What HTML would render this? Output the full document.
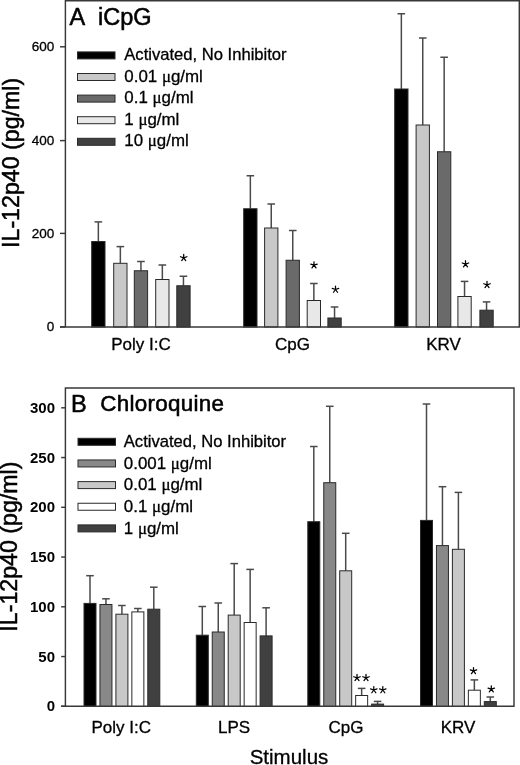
<!DOCTYPE html>
<html><head><meta charset="utf-8"><style>
html,body{margin:0;padding:0;background:#fff;}
svg{display:block;filter:grayscale(1);}
text{font-family:"Liberation Sans",sans-serif;fill:#000;stroke:#000;stroke-width:0.3px;}
.eb{stroke:#4a4a4a;stroke-width:1.5;}
.bar{stroke:#2a2a2a;stroke-width:1;}
.ax{stroke:#383838;stroke-width:1.45;fill:none;}
.leg{font-size:16.6px;}
.mu{font-family:"Liberation Serif",serif;}
.tkA{font-size:13.5px;}
.tkB{font-size:15px;font-weight:bold;stroke:none;}
.xl{font-size:17px;}
.title{font-size:23.5px;stroke-width:0.55px;}
.yl{font-size:23.2px;stroke-width:0.5px;}
.st{stroke:#000;stroke-width:1.25;stroke-linecap:round;fill:none;}
</style></head><body>
<svg width="520" height="765" viewBox="0 0 520 765">
<rect x="0" y="0" width="520" height="765" fill="#fff"/>
<!-- Panel A -->
<line x1="98.35" y1="241.50" x2="98.35" y2="221.90" class="eb"/>
<line x1="94.55" y1="221.90" x2="102.15" y2="221.90" class="eb"/>
<rect x="91.70" y="241.50" width="13.30" height="85.50" fill="#000000" class="bar"/>
<line x1="120.35" y1="263.30" x2="120.35" y2="246.60" class="eb"/>
<line x1="116.55" y1="246.60" x2="124.15" y2="246.60" class="eb"/>
<rect x="113.70" y="263.30" width="13.30" height="63.70" fill="#c8c8c8" class="bar"/>
<line x1="140.95" y1="270.75" x2="140.95" y2="261.50" class="eb"/>
<line x1="137.15" y1="261.50" x2="144.75" y2="261.50" class="eb"/>
<rect x="134.30" y="270.75" width="13.30" height="56.25" fill="#6a6a6a" class="bar"/>
<line x1="162.35" y1="279.50" x2="162.35" y2="265.00" class="eb"/>
<line x1="158.55" y1="265.00" x2="166.15" y2="265.00" class="eb"/>
<rect x="155.70" y="279.50" width="13.30" height="47.50" fill="#e8e8e8" class="bar"/>
<line x1="183.45" y1="285.75" x2="183.45" y2="276.25" class="eb"/>
<line x1="179.65" y1="276.25" x2="187.25" y2="276.25" class="eb"/>
<rect x="176.80" y="285.75" width="13.30" height="41.25" fill="#404040" class="bar"/>
<line x1="250.35" y1="208.75" x2="250.35" y2="175.75" class="eb"/>
<line x1="246.55" y1="175.75" x2="254.15" y2="175.75" class="eb"/>
<rect x="243.70" y="208.75" width="13.30" height="118.25" fill="#000000" class="bar"/>
<line x1="271.25" y1="228.00" x2="271.25" y2="204.00" class="eb"/>
<line x1="267.45" y1="204.00" x2="275.05" y2="204.00" class="eb"/>
<rect x="264.60" y="228.00" width="13.30" height="99.00" fill="#c8c8c8" class="bar"/>
<line x1="292.75" y1="260.25" x2="292.75" y2="230.50" class="eb"/>
<line x1="288.95" y1="230.50" x2="296.55" y2="230.50" class="eb"/>
<rect x="286.10" y="260.25" width="13.30" height="66.75" fill="#6a6a6a" class="bar"/>
<line x1="313.85" y1="300.50" x2="313.85" y2="283.50" class="eb"/>
<line x1="310.05" y1="283.50" x2="317.65" y2="283.50" class="eb"/>
<rect x="307.20" y="300.50" width="13.30" height="26.50" fill="#e8e8e8" class="bar"/>
<line x1="334.55" y1="318.00" x2="334.55" y2="307.00" class="eb"/>
<line x1="330.75" y1="307.00" x2="338.35" y2="307.00" class="eb"/>
<rect x="327.90" y="318.00" width="13.30" height="9.00" fill="#404040" class="bar"/>
<line x1="401.35" y1="89.00" x2="401.35" y2="13.75" class="eb"/>
<line x1="397.55" y1="13.75" x2="405.15" y2="13.75" class="eb"/>
<rect x="394.70" y="89.00" width="13.30" height="238.00" fill="#000000" class="bar"/>
<line x1="422.75" y1="125.00" x2="422.75" y2="38.00" class="eb"/>
<line x1="418.95" y1="38.00" x2="426.55" y2="38.00" class="eb"/>
<rect x="416.10" y="125.00" width="13.30" height="202.00" fill="#c8c8c8" class="bar"/>
<line x1="444.15" y1="151.75" x2="444.15" y2="57.25" class="eb"/>
<line x1="440.35" y1="57.25" x2="447.95" y2="57.25" class="eb"/>
<rect x="437.50" y="151.75" width="13.30" height="175.25" fill="#6a6a6a" class="bar"/>
<line x1="464.55" y1="296.50" x2="464.55" y2="281.40" class="eb"/>
<line x1="460.75" y1="281.40" x2="468.35" y2="281.40" class="eb"/>
<rect x="457.90" y="296.50" width="13.30" height="30.50" fill="#e8e8e8" class="bar"/>
<line x1="486.55" y1="310.20" x2="486.55" y2="301.90" class="eb"/>
<line x1="482.75" y1="301.90" x2="490.35" y2="301.90" class="eb"/>
<rect x="479.90" y="310.20" width="13.30" height="16.80" fill="#404040" class="bar"/>
<path d="M65.4 326.9V0.7H519.3V326.9H60" class="ax"/>
<line x1="60" y1="326.90" x2="65.4" y2="326.90" class="ax"/>
<text x="54.2" y="331.20" class="tkA" text-anchor="end">0</text>
<line x1="60" y1="233.40" x2="65.4" y2="233.40" class="ax"/>
<text x="54.2" y="237.70" class="tkA" text-anchor="end">200</text>
<line x1="60" y1="140.60" x2="65.4" y2="140.60" class="ax"/>
<text x="54.2" y="144.90" class="tkA" text-anchor="end">400</text>
<line x1="60" y1="46.80" x2="65.4" y2="46.80" class="ax"/>
<text x="54.2" y="51.10" class="tkA" text-anchor="end">600</text>
<text x="69.5" y="25.0" class="title">A</text><text x="98" y="25.0" class="title">iCpG</text>
<rect x="77.50" y="51.90" width="37.5" height="7" fill="#000000" class="bar"/>
<text x="124.3" y="60.00" class="leg">Activated, No Inhibitor</text>
<rect x="77.50" y="73.50" width="37.5" height="7" fill="#c8c8c8" class="bar"/>
<text x="124.3" y="81.60" class="leg" style="font-size:16.9px">0.01 <tspan class="mu">μ</tspan>g/ml</text>
<rect x="77.50" y="95.10" width="37.5" height="7" fill="#6a6a6a" class="bar"/>
<text x="124.3" y="103.20" class="leg" style="font-size:16.9px">0.1 <tspan class="mu">μ</tspan>g/ml</text>
<rect x="77.50" y="116.70" width="37.5" height="7" fill="#e8e8e8" class="bar"/>
<text x="124.3" y="124.80" class="leg" style="font-size:16.9px">1 <tspan class="mu">μ</tspan>g/ml</text>
<rect x="77.50" y="138.30" width="37.5" height="7" fill="#404040" class="bar"/>
<text x="124.3" y="146.40" class="leg" style="font-size:16.9px">10 <tspan class="mu">μ</tspan>g/ml</text>
<path d="M183.70 257.80L183.70 254.40M183.70 257.80L186.93 256.75M183.70 257.80L185.70 260.55M183.70 257.80L181.70 260.55M183.70 257.80L180.47 256.75" class="st"/><path d="M314.00 265.20L314.00 261.80M314.00 265.20L317.23 264.15M314.00 265.20L316.00 267.95M314.00 265.20L312.00 267.95M314.00 265.20L310.77 264.15" class="st"/><path d="M335.50 289.50L335.50 286.10M335.50 289.50L338.73 288.45M335.50 289.50L337.50 292.25M335.50 289.50L333.50 292.25M335.50 289.50L332.27 288.45" class="st"/><path d="M465.50 264.05L465.50 260.65M465.50 264.05L468.73 263.00M465.50 264.05L467.50 266.80M465.50 264.05L463.50 266.80M465.50 264.05L462.27 263.00" class="st"/><path d="M487.00 284.80L487.00 281.40M487.00 284.80L490.23 283.75M487.00 284.80L489.00 287.55M487.00 284.80L485.00 287.55M487.00 284.80L483.77 283.75" class="st"/>
<text x="141" y="349.7" class="xl" text-anchor="middle">Poly I:C</text>
<text x="292.5" y="349.7" class="xl" text-anchor="middle">CpG</text>
<text x="443.5" y="349.7" class="xl" text-anchor="middle">KRV</text>
<text transform="translate(18.6,162.9) rotate(-90)" text-anchor="middle" class="yl">IL-12p40 (pg/ml)</text>
<!-- Panel B -->
<line x1="90.00" y1="603.40" x2="90.00" y2="575.70" class="eb"/>
<line x1="86.20" y1="575.70" x2="93.80" y2="575.70" class="eb"/>
<rect x="84.00" y="603.40" width="12.00" height="103.10" fill="#000000" class="bar"/>
<line x1="105.95" y1="604.50" x2="105.95" y2="598.80" class="eb"/>
<line x1="102.15" y1="598.80" x2="109.75" y2="598.80" class="eb"/>
<rect x="99.95" y="604.50" width="12.00" height="102.00" fill="#888888" class="bar"/>
<line x1="121.90" y1="614.20" x2="121.90" y2="605.50" class="eb"/>
<line x1="118.10" y1="605.50" x2="125.70" y2="605.50" class="eb"/>
<rect x="115.90" y="614.20" width="12.00" height="92.30" fill="#c8c8c8" class="bar"/>
<line x1="137.85" y1="611.90" x2="137.85" y2="608.50" class="eb"/>
<line x1="134.05" y1="608.50" x2="141.65" y2="608.50" class="eb"/>
<rect x="131.85" y="611.90" width="12.00" height="94.60" fill="#ffffff" class="bar"/>
<line x1="153.80" y1="609.20" x2="153.80" y2="587.20" class="eb"/>
<line x1="150.00" y1="587.20" x2="157.60" y2="587.20" class="eb"/>
<rect x="147.80" y="609.20" width="12.00" height="97.30" fill="#404040" class="bar"/>
<line x1="202.30" y1="635.20" x2="202.30" y2="606.50" class="eb"/>
<line x1="198.50" y1="606.50" x2="206.10" y2="606.50" class="eb"/>
<rect x="196.30" y="635.20" width="12.00" height="71.30" fill="#000000" class="bar"/>
<line x1="218.25" y1="632.00" x2="218.25" y2="603.00" class="eb"/>
<line x1="214.45" y1="603.00" x2="222.05" y2="603.00" class="eb"/>
<rect x="212.25" y="632.00" width="12.00" height="74.50" fill="#888888" class="bar"/>
<line x1="234.20" y1="615.10" x2="234.20" y2="563.60" class="eb"/>
<line x1="230.40" y1="563.60" x2="238.00" y2="563.60" class="eb"/>
<rect x="228.20" y="615.10" width="12.00" height="91.40" fill="#c8c8c8" class="bar"/>
<line x1="250.15" y1="622.50" x2="250.15" y2="569.40" class="eb"/>
<line x1="246.35" y1="569.40" x2="253.95" y2="569.40" class="eb"/>
<rect x="244.15" y="622.50" width="12.00" height="84.00" fill="#ffffff" class="bar"/>
<line x1="266.10" y1="635.90" x2="266.10" y2="607.80" class="eb"/>
<line x1="262.30" y1="607.80" x2="269.90" y2="607.80" class="eb"/>
<rect x="260.10" y="635.90" width="12.00" height="70.60" fill="#404040" class="bar"/>
<line x1="313.80" y1="521.70" x2="313.80" y2="446.50" class="eb"/>
<line x1="310.00" y1="446.50" x2="317.60" y2="446.50" class="eb"/>
<rect x="307.80" y="521.70" width="12.00" height="184.80" fill="#000000" class="bar"/>
<line x1="329.75" y1="482.70" x2="329.75" y2="406.30" class="eb"/>
<line x1="325.95" y1="406.30" x2="333.55" y2="406.30" class="eb"/>
<rect x="323.75" y="482.70" width="12.00" height="223.80" fill="#888888" class="bar"/>
<line x1="345.70" y1="570.80" x2="345.70" y2="533.30" class="eb"/>
<line x1="341.90" y1="533.30" x2="349.50" y2="533.30" class="eb"/>
<rect x="339.70" y="570.80" width="12.00" height="135.70" fill="#c8c8c8" class="bar"/>
<line x1="361.65" y1="695.50" x2="361.65" y2="688.40" class="eb"/>
<line x1="357.85" y1="688.40" x2="365.45" y2="688.40" class="eb"/>
<rect x="355.65" y="695.50" width="12.00" height="11.00" fill="#ffffff" class="bar"/>
<line x1="377.60" y1="704.10" x2="377.60" y2="701.40" class="eb"/>
<line x1="373.80" y1="701.40" x2="381.40" y2="701.40" class="eb"/>
<rect x="371.60" y="704.10" width="12.00" height="2.40" fill="#404040" class="bar"/>
<line x1="426.50" y1="520.40" x2="426.50" y2="404.00" class="eb"/>
<line x1="422.70" y1="404.00" x2="430.30" y2="404.00" class="eb"/>
<rect x="420.50" y="520.40" width="12.00" height="186.10" fill="#000000" class="bar"/>
<line x1="442.45" y1="545.60" x2="442.45" y2="486.70" class="eb"/>
<line x1="438.65" y1="486.70" x2="446.25" y2="486.70" class="eb"/>
<rect x="436.45" y="545.60" width="12.00" height="160.90" fill="#888888" class="bar"/>
<line x1="458.40" y1="549.30" x2="458.40" y2="492.40" class="eb"/>
<line x1="454.60" y1="492.40" x2="462.20" y2="492.40" class="eb"/>
<rect x="452.40" y="549.30" width="12.00" height="157.20" fill="#c8c8c8" class="bar"/>
<line x1="474.35" y1="690.20" x2="474.35" y2="679.90" class="eb"/>
<line x1="470.55" y1="679.90" x2="478.15" y2="679.90" class="eb"/>
<rect x="468.35" y="690.20" width="12.00" height="16.30" fill="#ffffff" class="bar"/>
<line x1="490.30" y1="701.60" x2="490.30" y2="697.00" class="eb"/>
<line x1="486.50" y1="697.00" x2="494.10" y2="697.00" class="eb"/>
<rect x="484.30" y="701.60" width="12.00" height="4.90" fill="#404040" class="bar"/>
<path d="M65.4 706.3V387.9H514V706.3H61" class="ax"/>
<line x1="61.2" y1="706.30" x2="65.4" y2="706.30" class="ax"/>
<text x="55" y="711.30" class="tkB" text-anchor="end">0</text>
<line x1="61.2" y1="656.55" x2="65.4" y2="656.55" class="ax"/>
<text x="55" y="661.55" class="tkB" text-anchor="end">50</text>
<line x1="61.2" y1="606.80" x2="65.4" y2="606.80" class="ax"/>
<text x="55" y="611.80" class="tkB" text-anchor="end">100</text>
<line x1="61.2" y1="557.05" x2="65.4" y2="557.05" class="ax"/>
<text x="55" y="562.05" class="tkB" text-anchor="end">150</text>
<line x1="61.2" y1="507.30" x2="65.4" y2="507.30" class="ax"/>
<text x="55" y="512.30" class="tkB" text-anchor="end">200</text>
<line x1="61.2" y1="457.55" x2="65.4" y2="457.55" class="ax"/>
<text x="55" y="462.55" class="tkB" text-anchor="end">250</text>
<line x1="61.2" y1="407.80" x2="65.4" y2="407.80" class="ax"/>
<text x="55" y="412.80" class="tkB" text-anchor="end">300</text>
<text x="71" y="411.5" class="title">B</text><text x="100.3" y="410.6" class="title" style="font-size:22.4px;letter-spacing:0.3px">Chloroquine</text>
<rect x="78.00" y="438.30" width="37.5" height="7" fill="#000000" class="bar"/>
<text x="123.8" y="447.00" class="leg">Activated, No Inhibitor</text>
<rect x="78.00" y="459.95" width="37.5" height="7" fill="#888888" class="bar"/>
<text x="123.8" y="468.65" class="leg" style="font-size:16.9px">0.001 <tspan class="mu">μ</tspan>g/ml</text>
<rect x="78.00" y="481.60" width="37.5" height="7" fill="#c8c8c8" class="bar"/>
<text x="123.8" y="490.30" class="leg" style="font-size:16.9px">0.01 <tspan class="mu">μ</tspan>g/ml</text>
<rect x="78.00" y="503.25" width="37.5" height="7" fill="#ffffff" class="bar"/>
<text x="123.8" y="511.95" class="leg" style="font-size:16.9px">0.1 <tspan class="mu">μ</tspan>g/ml</text>
<rect x="78.00" y="524.90" width="37.5" height="7" fill="#404040" class="bar"/>
<text x="123.8" y="533.60" class="leg" style="font-size:16.9px">1 <tspan class="mu">μ</tspan>g/ml</text>
<path d="M357.00 677.80L357.00 674.40M357.00 677.80L360.23 676.75M357.00 677.80L359.00 680.55M357.00 677.80L355.00 680.55M357.00 677.80L353.77 676.75" class="st"/><path d="M366.00 677.80L366.00 674.40M366.00 677.80L369.23 676.75M366.00 677.80L368.00 680.55M366.00 677.80L364.00 680.55M366.00 677.80L362.77 676.75" class="st"/><path d="M373.80 690.00L373.80 686.60M373.80 690.00L377.03 688.95M373.80 690.00L375.80 692.75M373.80 690.00L371.80 692.75M373.80 690.00L370.57 688.95" class="st"/><path d="M382.80 690.00L382.80 686.60M382.80 690.00L386.03 688.95M382.80 690.00L384.80 692.75M382.80 690.00L380.80 692.75M382.80 690.00L379.57 688.95" class="st"/><path d="M473.50 670.90L473.50 667.50M473.50 670.90L476.73 669.85M473.50 670.90L475.50 673.65M473.50 670.90L471.50 673.65M473.50 670.90L470.27 669.85" class="st"/><path d="M491.30 689.20L491.30 685.80M491.30 689.20L494.53 688.15M491.30 689.20L493.30 691.95M491.30 689.20L489.30 691.95M491.30 689.20L488.07 688.15" class="st"/>
<text x="121.3" y="732.9" class="xl" text-anchor="middle">Poly I:C</text>
<text x="234" y="732.9" class="xl" text-anchor="middle">LPS</text>
<text x="346" y="732.9" class="xl" text-anchor="middle">CpG</text>
<text x="458" y="732.9" class="xl" text-anchor="middle">KRV</text>
<text x="289" y="763.5" text-anchor="middle" style="font-size:20.5px">Stimulus</text>
<text transform="translate(17.0,546.6) rotate(-90)" text-anchor="middle" class="yl">IL-12p40 (pg/ml)</text>
</svg>
</body></html>
